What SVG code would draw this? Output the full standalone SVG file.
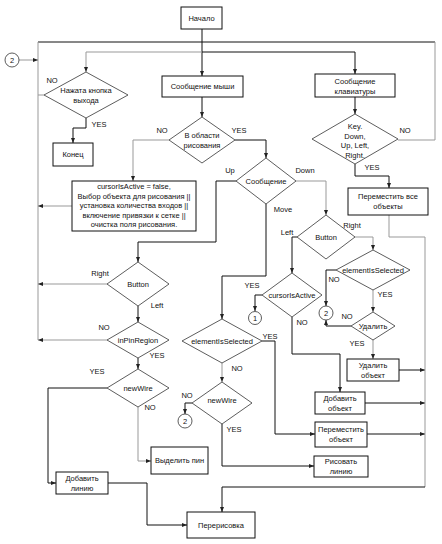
<svg xmlns="http://www.w3.org/2000/svg" width="442" height="544" viewBox="0 0 442 544">
<defs>
<marker id="ah" markerWidth="5" markerHeight="4" refX="5" refY="2" orient="auto" markerUnits="userSpaceOnUse"><path d="M0,0 L5,2 L0,4 z" fill="#222"/></marker>
<style>
.box{fill:#fff;stroke:#111;stroke-width:1}
.dia{fill:#fff;stroke:#333;stroke-width:0.8}
.cir{fill:#fff;stroke:#333;stroke-width:0.8}
.t{font-family:"Liberation Sans",Arial,sans-serif;font-size:7.5px;fill:#111;text-anchor:middle}
.lb{font-family:"Liberation Sans",Arial,sans-serif;font-size:7.5px;fill:#111;text-anchor:middle}
.k{fill:none;stroke:#111;stroke-width:1}
.g{fill:none;stroke:#999;stroke-width:1}
</style>
</defs>
<rect width="442" height="544" fill="#fff"/>
<g id="connectors">
<path class="k" d="M202,29 V76" marker-end="url(#ah)"/>
<path class="k" d="M38,42 H435"/>
<path class="g" d="M38,42 V340"/>
<path class="g" d="M435,42 V140"/>
<path class="g" d="M398,140 H435"/>
<path class="g" d="M86,52 H202"/>
<path class="k" d="M202,52 H355"/>
<path class="g" d="M86,52 V72" marker-end="url(#ah)"/>
<path class="k" d="M355,52 V74" marker-end="url(#ah)"/>
<path class="g" d="M19,60 H38" marker-end="url(#ah)"/>
<path class="g" d="M44,95 H38"/>
<path class="k" d="M86,118 V128 H73 V143" marker-end="url(#ah)"/>
<path class="k" d="M202,97 V117" marker-end="url(#ah)"/>
<path class="g" d="M169,140 H133 V181" marker-end="url(#ah)"/>
<path class="k" d="M235,140 H266 V158" marker-end="url(#ah)"/>
<path class="g" d="M72,206 H38" marker-end="url(#ah)"/>
<path class="k" d="M236,181 H216 V242 H138 V262" marker-end="url(#ah)"/>
<path class="g" d="M296,181 H326 V215" marker-end="url(#ah)"/>
<path class="k" d="M266,204 V276 H222 V319" marker-end="url(#ah)"/>
<path class="k" d="M297,237 H292 V273" marker-end="url(#ah)"/>
<path class="g" d="M355,237 H373 V250" marker-end="url(#ah)"/>
<path class="k" d="M262,295 H255 V311" marker-end="url(#ah)"/>
<path class="k" d="M292,317 V354 H340 V392" marker-end="url(#ah)"/>
<path class="k" d="M336,270 H326 V306" marker-end="url(#ah)"/>
<path class="g" d="M373,290 V312" marker-end="url(#ah)"/>
<path class="k" d="M351,326 H326 V320" marker-end="url(#ah)"/>
<path class="g" d="M373,340 V359" marker-end="url(#ah)"/>
<path class="k" d="M399,370 H425" marker-end="url(#ah)"/>
<path class="k" d="M365,403 H425" marker-end="url(#ah)"/>
<path class="k" d="M367,434 H425" marker-end="url(#ah)"/>
<path class="g" d="M389,215 V237 H425 V487"/>
<path class="k" d="M425,487 H222 V512" marker-end="url(#ah)"/>
<path class="k" d="M355,97 V114" marker-end="url(#ah)"/>
<path class="k" d="M355,164 V176 H389 V188" marker-end="url(#ah)"/>
<path class="k" d="M262,341 H275 V434 H315" marker-end="url(#ah)"/>
<path class="g" d="M222,363 V382" marker-end="url(#ah)"/>
<path class="k" d="M192,403 H185 V414" marker-end="url(#ah)"/>
<path class="k" d="M222,424 V466 H314" marker-end="url(#ah)"/>
<path class="g" d="M107,284 H38" marker-end="url(#ah)"/>
<path class="k" d="M138,306 V322" marker-end="url(#ah)"/>
<path class="g" d="M107,340 H38" marker-end="url(#ah)"/>
<path class="k" d="M138,358 V369" marker-end="url(#ah)"/>
<path class="k" d="M107,388 H48 V483 H56" marker-end="url(#ah)"/>
<path class="g" d="M138,407 V461 H151" marker-end="url(#ah)"/>
<path class="k" d="M108,483 H147 V525 H187" marker-end="url(#ah)"/>
</g>
<g id="labels">
<text class="lb" x="52" y="83">NO</text>
<text class="lb" x="99" y="127">YES</text>
<text class="lb" x="162" y="133">NO</text>
<text class="lb" x="239" y="133">YES</text>
<text class="lb" x="230" y="173">Up</text>
<text class="lb" x="305" y="173">Down</text>
<text class="lb" x="283" y="212">Move</text>
<text class="lb" x="287" y="235">Left</text>
<text class="lb" x="352" y="228">Right</text>
<text class="lb" x="252" y="288">YES</text>
<text class="lb" x="302" y="325">NO</text>
<text class="lb" x="334" y="282">NO</text>
<text class="lb" x="385" y="297">YES</text>
<text class="lb" x="347" y="319">NO</text>
<text class="lb" x="357" y="346">YES</text>
<text class="lb" x="270" y="339">YES</text>
<text class="lb" x="237" y="371">NO</text>
<text class="lb" x="187" y="398">NO</text>
<text class="lb" x="234" y="432">YES</text>
<text class="lb" x="100" y="276">Right</text>
<text class="lb" x="157" y="308">Left</text>
<text class="lb" x="104" y="330">NO</text>
<text class="lb" x="157" y="358">YES</text>
<text class="lb" x="97" y="374">YES</text>
<text class="lb" x="150" y="410">NO</text>
<text class="lb" x="405" y="133">NO</text>
<text class="lb" x="372" y="170">YES</text>
</g>
<g id="start"><rect class="box" x="181" y="7" width="41" height="22"/><text class="t" x="201.5" y="21">Начало</text></g>
<g id="conn2a"><circle class="cir" cx="12" cy="60" r="7"/><text class="t" x="12" y="63">2</text></g>
<g id="exitDecision"><polygon class="dia" points="86,72 128,95 86,118 44,95"/><text class="t" x="86" y="93">Нажата кнопка</text><text class="t" x="86" y="103">выхода</text></g>
<g id="end"><rect class="box" x="53" y="143" width="40" height="23"/><text class="t" x="73" y="157">Конец</text></g>
<g id="mouseMsg"><rect class="box" x="162" y="76" width="81" height="21"/><text class="t" x="202.5" y="89">Сообщение мыши</text></g>
<g id="inArea"><polygon class="dia" points="202,117 235,140 202,163 169,140"/><text class="t" x="202" y="138">В области</text><text class="t" x="202" y="148">рисования</text></g>
<g id="resetBox"><rect class="box" x="72" y="181" width="124" height="50"/>
<text class="t" x="134" y="189">cursorIsActive = false,</text>
<text class="t" x="134" y="198.5">Выбор объекта для рисования ||</text>
<text class="t" x="134" y="208">установка количества входов ||</text>
<text class="t" x="134" y="217.5">включение привязки к сетке ||</text>
<text class="t" x="134" y="227">очистка поля рисования.</text></g>
<g id="msgDecision"><polygon class="dia" points="266,158 296,181 266,204 236,181"/><text class="t" x="266" y="184">Сообщение</text></g>
<g id="buttonRight"><polygon class="dia" points="326,215 355,237 326,259 297,237"/><text class="t" x="326" y="240">Button</text></g>
<g id="cursorActive"><polygon class="dia" points="292,273 322,295 292,317 262,295"/><text class="t" x="292" y="298">cursorIsActive</text></g>
<g id="conn1"><circle class="cir" cx="255" cy="318" r="6.5"/><text class="t" x="255" y="321">1</text></g>
<g id="elemSelRight"><polygon class="dia" points="373,250 410,270 373,290 336,270"/><text class="t" x="373" y="273">elementIsSelected</text></g>
<g id="conn2b"><circle class="cir" cx="326" cy="313" r="7"/><text class="t" x="326" y="316">2</text></g>
<g id="deleteDecision"><polygon class="dia" points="373,312 395,326 373,340 351,326"/><text class="t" x="373" y="329">Удалить</text></g>
<g id="deleteObj"><rect class="box" x="347" y="359" width="52" height="22"/><text class="t" x="373" y="368">Удалить</text><text class="t" x="373" y="378">объект</text></g>
<g id="addObj"><rect class="box" x="315" y="392" width="50" height="22"/><text class="t" x="340" y="401">Добавить</text><text class="t" x="340" y="411">объект</text></g>
<g id="moveObj"><rect class="box" x="315" y="422" width="52" height="25"/><text class="t" x="341" y="432">Переместить</text><text class="t" x="341" y="442">объект</text></g>
<g id="drawLine"><rect class="box" x="314" y="456" width="54" height="21"/><text class="t" x="341" y="464">Рисовать</text><text class="t" x="341" y="474">линию</text></g>
<g id="elemSelMid"><polygon class="dia" points="222,319 262,341 222,363 182,341"/><text class="t" x="222" y="344">elementIsSelected</text></g>
<g id="newWireMid"><polygon class="dia" points="222,382 252,403 222,424 192,403"/><text class="t" x="222" y="403">newWire</text></g>
<g id="conn2c"><circle class="cir" cx="185" cy="421" r="7"/><text class="t" x="185" y="424">2</text></g>
<g id="buttonLeft"><polygon class="dia" points="138,262 169,284 138,306 107,284"/><text class="t" x="138" y="287">Button</text></g>
<g id="inPin"><polygon class="dia" points="138,322 169,340 138,358 107,340"/><text class="t" x="138" y="343">inPinRegion</text></g>
<g id="newWireLeft"><polygon class="dia" points="138,369 169,388 138,407 107,388"/><text class="t" x="138" y="391">newWire</text></g>
<g id="selectPin"><rect class="box" x="151" y="447" width="57" height="27"/><text class="t" x="179.5" y="463">Выделить пин</text></g>
<g id="addLine"><rect class="box" x="56" y="472" width="52" height="22"/><text class="t" x="82" y="481">Добавить</text><text class="t" x="82" y="491">линию</text></g>
<g id="redraw"><rect class="box" x="187" y="512" width="68" height="26"/><text class="t" x="221" y="528">Перерисовка</text></g>
<g id="kbMsg"><rect class="box" x="315" y="74" width="80" height="23"/><text class="t" x="355" y="84">Сообщение</text><text class="t" x="355" y="94">клавиатуры</text></g>
<g id="kbDecision"><polygon class="dia" points="355,114 398,139 355,164 312,139"/>
<text class="t" x="355" y="129">Key.</text><text class="t" x="355" y="138.5">Down,</text><text class="t" x="355" y="148">Up, Left,</text><text class="t" x="355" y="157.5">Right.</text></g>
<g id="moveAll"><rect class="box" x="348" y="188" width="80" height="27"/><text class="t" x="388" y="199">Переместить все</text><text class="t" x="388" y="209">объекты</text></g>
</svg>
